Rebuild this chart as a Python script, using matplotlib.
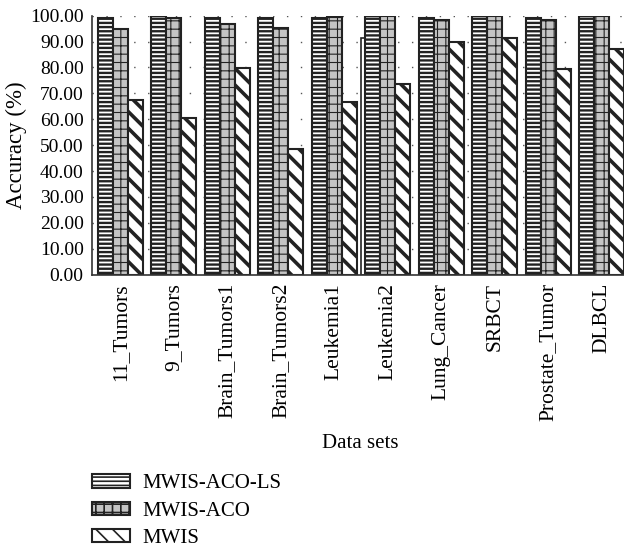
import numpy as np
import matplotlib
matplotlib.use("Agg")
import matplotlib.pyplot as plt

datasets = ["11_Tumors", "9_Tumors", "Brain_Tumors1", "Brain_Tumors2", "Leukemia1",
            "Leukemia2", "Lung_Cancer", "SRBCT", "Prostate_Tumor", "DLBCL"]
mwis_aco_ls = [99.0, 100.0, 99.0, 99.0, 99.2, 100.0, 99.0, 100.0, 99.0, 100.0]
mwis_aco = [94.7, 99.0, 96.7, 95.1, 99.6, 100.0, 98.3, 100.0, 98.3, 100.0]
mwis = [67.4, 60.4, 79.9, 48.4, 66.8, 73.6, 90.0, 91.3, 79.4, 87.0]
# stray white bar visible behind Leukemia2 in the original figure
stray_index = 5
stray_value = 91.5

plt.rcParams['font.family'] = ['Liberation Serif', 'DejaVu Serif']
plt.rcParams['hatch.linewidth'] = 1.6

fig = plt.figure(figsize=(6.24, 5.5), dpi=100)
ax = fig.add_axes([92 / 624, 1 - 274.7 / 550, 1 - 92 / 624, (274.7 - 15.7) / 550])

x = np.arange(len(datasets))
w = 0.28

ax.bar(stray_index - 0.225 - w, stray_value, w, align='edge', color='white',
       edgecolor='#222222', linewidth=1.2, zorder=1)

series = [
    (mwis_aco_ls, 'MWIS-ACO-LS', 'white', '----', -1.5, 1.7),
    (mwis_aco, 'MWIS-ACO', '#c4c4c4', '++', -0.5, 0.8),
    (mwis, 'MWIS', 'white', '\\\\', 0.5, 2.6),
]
for vals, name, fc, hatch, off, hlw in series:
    bars = ax.bar(x + off * w, vals, w, align='edge', color=fc, edgecolor='#222222',
                  hatch=hatch, linewidth=1.5, label=name, zorder=2)
    for b in bars:
        if hasattr(b, 'set_hatch_linewidth'):
            b.set_hatch_linewidth(hlw)

ax.set_ylim(0, 100)
ax.set_xlim(-0.533, 9.42)
ax.set_yticks(np.arange(0, 101, 10))
ax.set_yticklabels(['%.2f' % v for v in np.arange(0, 101, 10)], fontsize=14)
ax.set_xticks(x)
ax.set_xticklabels(datasets, rotation=90, fontsize=15.5)
ax.tick_params(axis='both', length=0, pad=6)
ax.yaxis.grid(True, linestyle=(0, (1, 9)), color='#555555', linewidth=1)
ax.set_axisbelow(True)
for s in ['top', 'right']:
    ax.spines[s].set_visible(False)
ax.spines['left'].set_color('#333333')
ax.spines['bottom'].set_color('#333333')
ax.spines['left'].set_linewidth(1.2)
ax.spines['bottom'].set_linewidth(1.2)

ax.set_ylabel('Accuracy (%)', fontsize=16.5, labelpad=2)
fig.text(360 / 624, 1 - 443 / 550, 'Data sets', fontsize=15, ha='center', va='center')

handles, labels = ax.get_legend_handles_labels()
leg = fig.legend(handles, labels, loc='upper left', bbox_to_anchor=(86 / 624, 1 - 468 / 550),
                 frameon=False, fontsize=15, handlelength=1.8, handleheight=0.6,
                 labelspacing=0.4, handletextpad=0.6, borderaxespad=0, borderpad=0.3)
for p in leg.get_patches():
    if hasattr(p, 'set_hatch_linewidth'):
        p.set_hatch_linewidth(1.2)

fig.savefig('out.png', dpi=100)
